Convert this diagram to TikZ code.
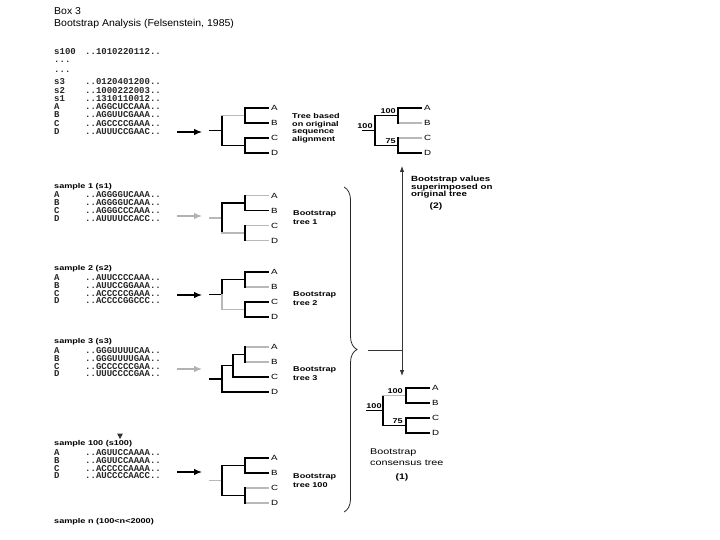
\documentclass[tikz,border=0pt]{standalone}
\usepackage{fontspec}
\setmainfont{Liberation Sans}
\newfontfamily\labf[FakeStretch=1.3]{Liberation Sans}
\newfontfamily\ttlf[FakeStretch=1.05]{Liberation Sans}
\newfontfamily\monof{Liberation Mono}
\usetikzlibrary{arrows.meta,decorations.pathreplacing}
\tikzset{
  bk/.style={draw=black, line width=1.1pt, line cap=rect},
  gr/.style={draw=black!28, line width=1.1pt, line cap=rect},
  tS/.style=bk, tRU/.style=bk, tRL/.style=bk, tAH/.style=bk, tAV/.style=bk,
  tLA/.style=bk, tLB/.style=bk, tCH/.style=bk, tCV/.style=bk, tLC/.style=bk, tLD/.style=bk,
  seqtxt/.style={anchor=west, inner sep=0pt, text=black!85, font=\monof\bfseries\fontsize{9}{9}\selectfont},
  leaftxt/.style={anchor=west, inner sep=0pt, font=\labf\fontsize{7.5}{8}\selectfont},
  sampletxt/.style={anchor=west, inner sep=0pt, font=\labf\bfseries\fontsize{7}{8}\selectfont},
  treetxt/.style={anchor=north west, inner sep=0pt, align=left, font=\labf\bfseries\fontsize{7}{9}\selectfont},
  numtxt/.style={inner sep=0pt, font=\labf\bfseries\fontsize{7}{8}\selectfont},
  titletxt/.style={anchor=west, inner sep=0pt, font=\ttlf\fontsize{10}{11}\selectfont},
  seqarrow/.style={-{Latex[length=8pt,width=6.5pt]}, line width=1.2pt},
  thinline/.style={draw=black!80, line width=0.8pt},
}
% standard tree ((A,B),(C,D)): prefix, xshift, yshift (y of leaf A)
\newcommand\stdtree[3]{%
  \begin{scope}[shift={(#2,#3)}]
    \draw[tS]  (210,22.5) -- (222,22.5);
    \draw[tRU] (222,7.5) -- (222,22.5);
    \draw[tRL] (222,22.5) -- (222,37.5);
    \draw[tAH] (222,7.5) -- (245,7.5);
    \draw[tCH] (222,37.5) -- (245,37.5);
    \draw[tLA] (245,0) -- (268,0);
    \draw[tLB] (245,15) -- (268,15);
    \draw[tLC] (245,30) -- (268,30);
    \draw[tLD] (245,45) -- (268,45);
    \draw[tAV] (245,0) -- (245,15);
    \draw[tCV] (245,30) -- (245,45);
    \node[leaftxt] (#1A) at (271,0) {A};
    \node[leaftxt] (#1B) at (271,15) {B};
    \node[leaftxt] (#1C) at (271,30) {C};
    \node[leaftxt] (#1D) at (271,45) {D};
  \end{scope}}
% sample block: prefix, y of title, title, A, B, C, D
\newcommand\seqblock[6]{%
  \node[sampletxt] (#1t) at (54,#2) {#3};
  \node[seqtxt] (#1a) at (54,#2+8.5) {A};
  \node[seqtxt] (#1b) at (54,#2+16.3) {B};
  \node[seqtxt] (#1c) at (54,#2+24.2) {C};
  \node[seqtxt] (#1d) at (54,#2+32) {D};
  \node[seqtxt] (#1as) at (85,#2+8.5) {#4};
  \node[seqtxt] (#1bs) at (85,#2+16.3) {#5};
  \node[seqtxt] (#1cs) at (85,#2+24.2) {#6};}
\newcommand\seqD[2]{\node[seqtxt] (#1ds) at (85,#2) {};}
\begin{document}
\begin{tikzpicture}[x=1pt,y=-1pt]
\useasboundingbox (0,0) rectangle (720,540);

% title
\node[titletxt] (box) at (54,11) {Box 3};
\node[titletxt] (ttl) at (54,24) {Bootstrap Analysis (Felsenstein, 1985)};

% original data block
\node[seqtxt] (l100) at (54,52) {s100};
\node[seqtxt] (d1) at (54,62) {...};
\node[seqtxt] (d2) at (54,72) {...};
\node[seqtxt] (l3) at (54,82) {s3};
\node[seqtxt] (l2) at (54,90.3) {s2};
\node[seqtxt] (l1) at (54,98.5) {s1};
\node[seqtxt] (lA) at (54,106.8) {A};
\node[seqtxt] (lB) at (54,115) {B};
\node[seqtxt] (lC) at (54,123.3) {C};
\node[seqtxt] (lD) at (54,131.6) {D};
\node[seqtxt] (q100) at (85,52) {..1010220112..};
\node[seqtxt] (q3) at (85,82) {..0120401200..};
\node[seqtxt] (q2) at (85,90.3) {..1000222003..};
\node[seqtxt] (q1) at (85,98.5) {..1310110012..};
\node[seqtxt] (qA) at (85,106.8) {..AGGCUCCAAA..};
\node[seqtxt] (qB) at (85,115) {..AGGUUCGAAA..};
\node[seqtxt] (qC) at (85,123.3) {..AGCCCCGAAA..};
\node[seqtxt] (qD) at (85,131.6) {..AUUUCCGAAC..};

% samples
\seqblock{sa}{186.5}{sample 1 (s1)}{..AGGGGUCAAA..}{..AGGGGUCAAA..}{..AGGGCCCAAA..}
\node[seqtxt] (sads) at (85,218.5) {..AUUUUCCACC..};
\seqblock{sb}{269}{sample 2 (s2)}{..AUUCCCCAAA..}{..AUUCCGGAAA..}{..ACCCCCGAAA..}
\node[seqtxt] (sbds) at (85,301) {..ACCCCGGCCC..};
\seqblock{sc}{342}{sample 3 (s3)}{..GGGUUUUCAA..}{..GGGUUUUGAA..}{..GCCCCCCGAA..}
\node[seqtxt] (scds) at (85,374) {..UUUCCCCGAA..};
\seqblock{sd}{444}{sample 100 (s100)}{..AGUUCCAAAA..}{..AGUUCCAAAA..}{..ACCCCCAAAA..}
\node[seqtxt] (sdds) at (85,476) {..AUCCCCAACC..};
\fill[black!80] (117,433.5) -- (123,433.5) -- (120,439) -- cycle;
\node[sampletxt] (sn) at (54,522) {sample n (100<n<2000)};

% arrows from data to trees
\coordinate (a0s) at (177,132); \coordinate (a0e) at (202,132);
\coordinate (a1s) at (177,216); \coordinate (a1e) at (202,216);
\coordinate (a2s) at (177,295); \coordinate (a2e) at (202,295);
\coordinate (a3s) at (177,369); \coordinate (a3e) at (202,369);
\coordinate (a4s) at (177,472); \coordinate (a4e) at (202,472);
\draw[seqarrow, black] (a0s) -- (a0e);
\draw[seqarrow, black!30] (a1s) -- (a1e);
\draw[seqarrow, black] (a2s) -- (a2e);
\draw[seqarrow, black!30] (a3s) -- (a3e);
\draw[seqarrow, black] (a4s) -- (a4e);

% original tree
\begin{scope}[tAH/.style=gr]
  \stdtree{o}{0}{108}
\end{scope}
\node[treetxt, font=\labf\bfseries\fontsize{7}{7.5}\selectfont] (tb) at (292,113.5) {Tree based\\on original\\sequence\\alignment};

% bootstrap trees
\begin{scope}[tS/.style=gr, tLA/.style=gr, tCH/.style=gr, tLC/.style=gr, tLD/.style=gr]
  \stdtree{t1}{0}{195.5}
\end{scope}
\node[treetxt] (bt1) at (293,210.5) {Bootstrap\\tree 1};
\begin{scope}[tRL/.style=gr, tLB/.style=gr, tCH/.style=gr]
  \stdtree{t2}{0}{272}
\end{scope}
\node[treetxt] (bt2) at (293,291) {Bootstrap\\tree 2};

% tree 3 (((A,B),C),D)
\draw[bk] (210,379) -- (222,379);
\draw[bk] (222,365.75) -- (222,392);
\draw[bk] (222,365.75) -- (233,365.75);
\draw[bk] (233,354.5) -- (233,377);
\draw[bk] (233,354.5) -- (245,354.5);
\draw[gr] (245,347) -- (268,347);
\draw[gr] (245,362) -- (268,362);
\draw[bk] (245,347) -- (245,362);
\draw[bk] (233,377) -- (268,377);
\draw[bk] (222,392) -- (268,392);
\node[leaftxt] (t3A) at (271,347) {A};
\node[leaftxt] (t3B) at (271,362) {B};
\node[leaftxt] (t3C) at (271,377) {C};
\node[leaftxt] (t3D) at (271,392) {D};
\node[treetxt] (bt3) at (293,366.5) {Bootstrap\\tree 3};

\begin{scope}[tS/.style=gr, tLC/.style=gr, tLD/.style=gr]
  \stdtree{t4}{0}{458}
\end{scope}
\node[treetxt] (bt4) at (293,473.5) {Bootstrap\\tree 100};

% brace
\draw[decorate, decoration={brace, amplitude=13pt}, draw=black!85, line width=0.8pt] (344,187) -- (344,512);

% top right tree with values
\begin{scope}[tLB/.style=gr, tLC/.style=gr]
  \stdtree{r}{153}{108}
\end{scope}
\node[numtxt, anchor=south] (r100a) at (365,128.5) {100};
\node[numtxt, anchor=south east] (r100b) at (396,114) {100};
\node[numtxt, anchor=south east] (r75) at (396,144) {75};

% consensus tree
\begin{scope}[tAH/.style=gr]
  \stdtree{c}{161}{388}
\end{scope}
\draw[bk] (367,410.5) -- (372,410.5);
\node[numtxt, anchor=south] (c100a) at (374,409) {100};
\node[numtxt, anchor=south east] (c100b) at (403,394) {100};
\node[numtxt, anchor=south east] (c75) at (403,424) {75};
\node[treetxt, font=\labf\fontsize{8.3}{11}\selectfont] (cons) at (370,449) {Bootstrap\\consensus tree};
\node[inner sep=0pt, font=\labf\bfseries\fontsize{8}{9}\selectfont] (one) at (402,477) {(1)};

% connectors between brace, consensus and original tree
\coordinate (btip) at (368,350);
\coordinate (junc) at (402,350);
\coordinate (uptop) at (402,166);
\coordinate (dnbot) at (402,376);
\draw[thinline] (btip) -- (junc);
\draw[thinline, -{Latex[length=6pt,width=4.5pt]}] (junc) -- (uptop);
\draw[thinline, -{Latex[length=6pt,width=4.5pt]}] (junc) -- (dnbot);

\node[treetxt, font=\labf\bfseries\fontsize{7.5}{7.5}\selectfont] (bv) at (411,176.3) {Bootstrap values\\superimposed on\\original tree};
\node[inner sep=0pt, font=\labf\bfseries\fontsize{8}{9}\selectfont] (two) at (436,206) {(2)};
\end{tikzpicture}
\end{document}
